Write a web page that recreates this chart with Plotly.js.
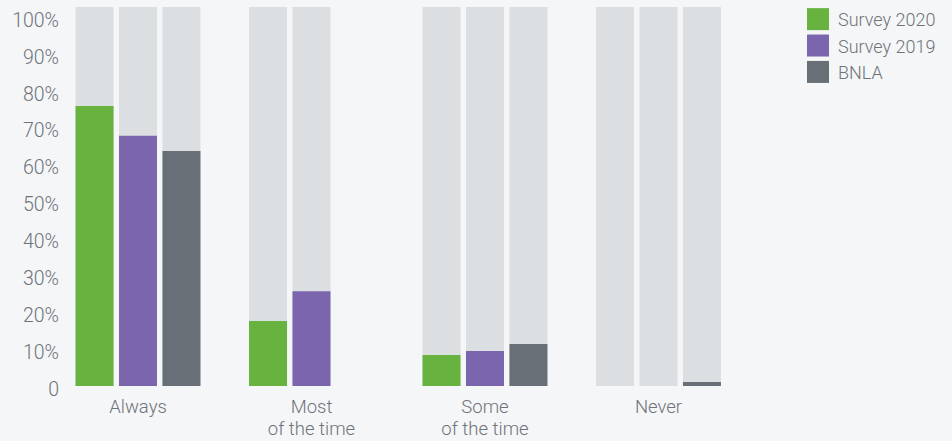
<!DOCTYPE html>
<html>
<head>
<meta charset="utf-8">
<script src="https://cdn.plot.ly/plotly-3.0.1.min.js"></script>
<style>
  html, body { margin: 0; padding: 0; background: #f5f6f8; }
  #chart { width: 952px; height: 441px; }
</style>
</head>
<body>
<div id="chart"></div>
<script>
// ---- data ----
const categories = ["Always", "Most<br>of the time", "Some<br>of the time", "Never"];
const seriesNames = ["Survey 2020", "Survey 2019", "BNLA"];
const survey2020 = [75.9, 17.6, 8.4, 0];
const survey2019 = [67.8, 25.7, 9.5, 0];
const bnla = [63.7, null, 11.4, 1.1];
// full-height background track for each bar slot (null = no bar in that slot)
const FULL = 102.7;
const track2020 = [FULL, FULL, FULL, FULL];
const track2019 = [FULL, FULL, FULL, FULL];
const trackBnla = [FULL, null, FULL, FULL];
const yTickVals = [0, 10, 20, 30, 40, 50, 60, 70, 80, 90, 100];
const yTickText = ["0", "10%", "20%", "30%", "40%", "50%", "60%", "70%", "80%", "90%", "100%"];

// ---- styles ----
const colors = ["#68b240", "#7b65ad", "#686f77"];
const trackColor = "#dcdfe2";
const textColor = "#6e7378";
const W = 0.219;
const offsets = [-0.36, -0.1095, 0.141];
const xIdx = categories.map((_, i) => i);

const values = [survey2020, survey2019, bnla];
const tracks = [track2020, track2019, trackBnla];

const traces = [];
tracks.forEach((t, i) => {
  traces.push({
    type: "bar", x: xIdx, y: t, width: W, offset: offsets[i],
    marker: { color: trackColor }, showlegend: false, hoverinfo: "skip"
  });
});
values.forEach((v, i) => {
  traces.push({
    type: "bar", name: seriesNames[i], x: xIdx, y: v, width: W, offset: offsets[i],
    marker: { color: colors[i] }
  });
});

const fam = "Roboto, 'Helvetica Neue', Arial, sans-serif";
const font = { family: fam, size: 18, color: textColor, weight: 300 };
const yTickFont = { family: fam, size: 19.5, color: textColor, weight: 300 };
const xTickFont = { family: fam, size: 18.5, color: textColor, weight: 300 };

const layout = {
  width: 952, height: 441,
  margin: { l: 62, r: 162, t: 7, b: 55, autoexpand: false },
  paper_bgcolor: "#f5f6f8",
  plot_bgcolor: "#f5f6f8",
  barmode: "overlay",
  font: font,
  showlegend: true,
  legend: {
    x: (798 - 62) / 728, xanchor: "left", y: 1.016, yanchor: "top",
    font: font, bgcolor: "rgba(0,0,0,0)", traceorder: "normal"
  },
  xaxis: {
    range: [-0.438, 3.758],
    tickmode: "array", tickvals: xIdx, ticktext: categories,
    showgrid: false, zeroline: false, showline: false, ticks: "",
    tickfont: xTickFont, ticklabelstandoff: 7, fixedrange: true, automargin: false
  },
  yaxis: {
    range: [0, FULL],
    tickmode: "array", tickvals: yTickVals, ticktext: yTickText,
    showgrid: false, zeroline: false, showline: false, ticks: "",
    tickfont: yTickFont, ticklabelshift: 3, ticklabelstandoff: 2, fixedrange: true, automargin: false
  }
};

Plotly.newPlot("chart", traces, layout, { displayModeBar: false, staticPlot: true }).then(gd => {
  document.querySelectorAll(".legend .legendpoints path").forEach(p => {
    p.setAttribute("d", "M11,11H-11V-11H11Z");
  });
  // slightly tighter line spacing for two-line category labels
  document.querySelectorAll(".xtick text tspan.line").forEach(t => {
    if (t.getAttribute("dy") && t.getAttribute("dy") !== "0em") t.setAttribute("dy", "1.2em");
  });
});
</script>
</body>
</html>
